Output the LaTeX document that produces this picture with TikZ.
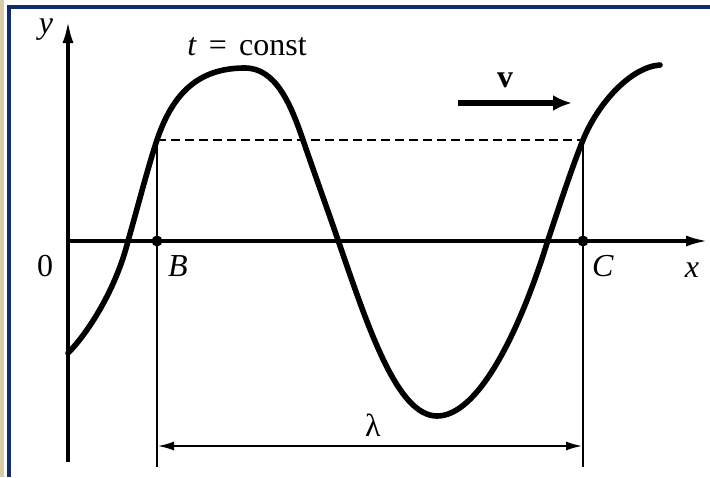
\documentclass[tikz,border=0pt]{standalone}
\usepackage{fontspec}
\setmainfont{Liberation Serif}
\usetikzlibrary{arrows.meta}
\definecolor{frameblue}{HTML}{102C6C}
\definecolor{framebeige}{HTML}{D8CCA8}
\begin{document}
\begin{tikzpicture}[x=1pt,y=-1pt,
  axis/.style={line width=3.4pt,-{Latex[length=22pt,width=11pt]}},
  wave/.style={line width=5.6pt,line cap=round,line join=round},
  guide/.style={line width=2.2pt},
  dashguide/.style={line width=2.6pt,dash pattern=on 9pt off 5pt},
  dimarrow/.style={line width=2.6pt,{Latex[length=17pt,width=9pt]}-{Latex[length=17pt,width=9pt]}},
  varrow/.style={line width=5.5pt,-{Latex[length=19pt,width=16pt]}},
  lbl/.style={font=\fontsize{32}{36}\selectfont,inner sep=0pt},
  dot/.style={circle,fill=black,inner sep=0pt,minimum size=11pt}]
\useasboundingbox (0,0) rectangle (710,477);
\fill[white] (0,0) rectangle (710,477);
\fill[framebeige] (0,0) rectangle (4,477);
\fill[frameblue] (7,5) rectangle (11,477);
\fill[frameblue] (7,5) rectangle (710,9);
% coordinates
\coordinate (O) at (68,241);
\coordinate (ytop) at (68,21);
\coordinate (ybot) at (68,462);
\coordinate (xend) at (708,241);
\coordinate (Btop) at (157,140);
\coordinate (Ctop) at (583,140);
\coordinate (Bbot) at (157,467);
\coordinate (Cbot) at (583,467);
\coordinate (Bl) at (157,446);
\coordinate (Cl) at (583,446);
\coordinate (vs) at (458,103);
\coordinate (ve) at (572,103);
\coordinate (w0) at (68,353);
\coordinate (z1) at (128,241);
\coordinate (pk) at (245,68);
\coordinate (p3) at (303,140);
\coordinate (z2) at (338,240);
\coordinate (tr) at (437,416);
\coordinate (z3) at (548,240);
\coordinate (we) at (660,65);
% axes
\draw[axis] (ybot) -- (ytop);
\draw[axis] (O) -- (xend);
% guides
\draw[guide] (Btop) -- (Bbot);
\draw[guide] (Ctop) -- (Cbot);
\draw[dashguide] (Btop) -- (Ctop);
\draw[dimarrow] (Bl) -- (Cl);
% wave
\draw[wave] (w0) .. controls (88,333) and (116,289) .. (z1)
  .. controls (138,206) and (148,167) .. (Btop)
  .. controls (175,86) and (205,68) .. (pk)
  .. controls (276,68) and (291,105) .. (p3)
  .. controls (315,175) and (327,208) .. (z2)
  .. controls (368,327) and (397,416) .. (tr)
  .. controls (477,416) and (518,337) .. (z3)
  .. controls (558,210) and (571,170) .. (Ctop)
  .. controls (597,105) and (630,67) .. (we);
% velocity
\draw[varrow] (vs) -- (ve);
% dots
\node[dot] (B) at (157,241) {};
\node[dot] (C) at (583,241) {};
% labels
\node[lbl] (ylab) at (46,30) {\textit{y}};
\node[lbl] (tlab) at (247,47) {\textit{t}\hspace{0.38em}=\hspace{0.38em}const};
\node[lbl] (vlab) at (505,80) {\textbf{v}};
\node[lbl] (zero) at (45,266) {0};
\node[lbl] (Blab) at (178,266) {\textit{B}};
\node[lbl] (Clab) at (603,266) {\textit{C}};
\node[lbl] (xlab) at (692,270) {\textit{x}};
\node[lbl] (lam) at (373,425) {λ};
\end{tikzpicture}
\end{document}
